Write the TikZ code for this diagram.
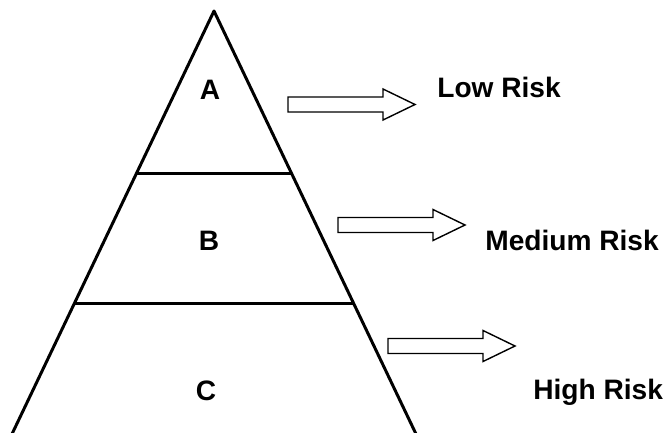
\documentclass[tikz,border=0pt]{standalone}
\usepackage{fontspec}
\setmainfont{Liberation Sans}
\usetikzlibrary{calc}

\tikzset{
  side/.style={line width=1.7pt,line join=round},
  blockarrow/.style={line width=0.8pt,fill=white},
  tierlabel/.style={anchor=base,inner sep=0pt,font=\fontsize{16}{19}\selectfont\bfseries},
  risklabel/.style={anchor=base west,inner sep=0pt,font=\fontsize{16}{19}\selectfont\bfseries}
}

% hollow arrow from (#1) to tip (#2)
\newcommand{\riskarrow}[2]{%
  \draw[blockarrow] ($(#1)+(0,-7.5)$) -- ($(#2)+(-32,-7.5)$) -- ($(#2)+(-32,-15.5)$)
    -- (#2) -- ($(#2)+(-32,15.5)$) -- ($(#2)+(-32,7.5)$) -- ($(#1)+(0,7.5)$) -- cycle;}

\begin{document}
\begin{tikzpicture}[x=0.2mm,y=-0.2mm]
\useasboundingbox (0,0) rectangle (665,432);
\coordinate (apex) at (214,11);
\coordinate (baseL) at (12,434);
\coordinate (baseR) at (416,434);
\coordinate (abL) at ($(apex)!0.383!(baseL)$);
\coordinate (abR) at ($(apex)!0.383!(baseR)$);
\coordinate (bcL) at ($(apex)!0.692!(baseL)$);
\coordinate (bcR) at ($(apex)!0.692!(baseR)$);
\draw[side] (baseL)--(apex)--(baseR);
\draw[side] (abL)--(abR);
\draw[side] (bcL)--(bcR);
\node[tierlabel] (A) at (210,99) {A};
\node[tierlabel] (B) at (209,250) {B};
\node[tierlabel] (C) at (206,400) {C};
\coordinate (lowS) at (288,104.5);
\coordinate (lowT) at (415,104.5);
\coordinate (medS) at (338,225);
\coordinate (medT) at (465,225);
\coordinate (highS) at (388,346);
\coordinate (highT) at (515,346);
\riskarrow{lowS}{lowT}
\riskarrow{medS}{medT}
\riskarrow{highS}{highT}
\node[risklabel] (low) at (437,97) {Low Risk};
\node[risklabel] (medium) at (485,250) {Medium Risk};
\node[risklabel] (high) at (533,399) {High Risk};
\end{tikzpicture}
\end{document}
